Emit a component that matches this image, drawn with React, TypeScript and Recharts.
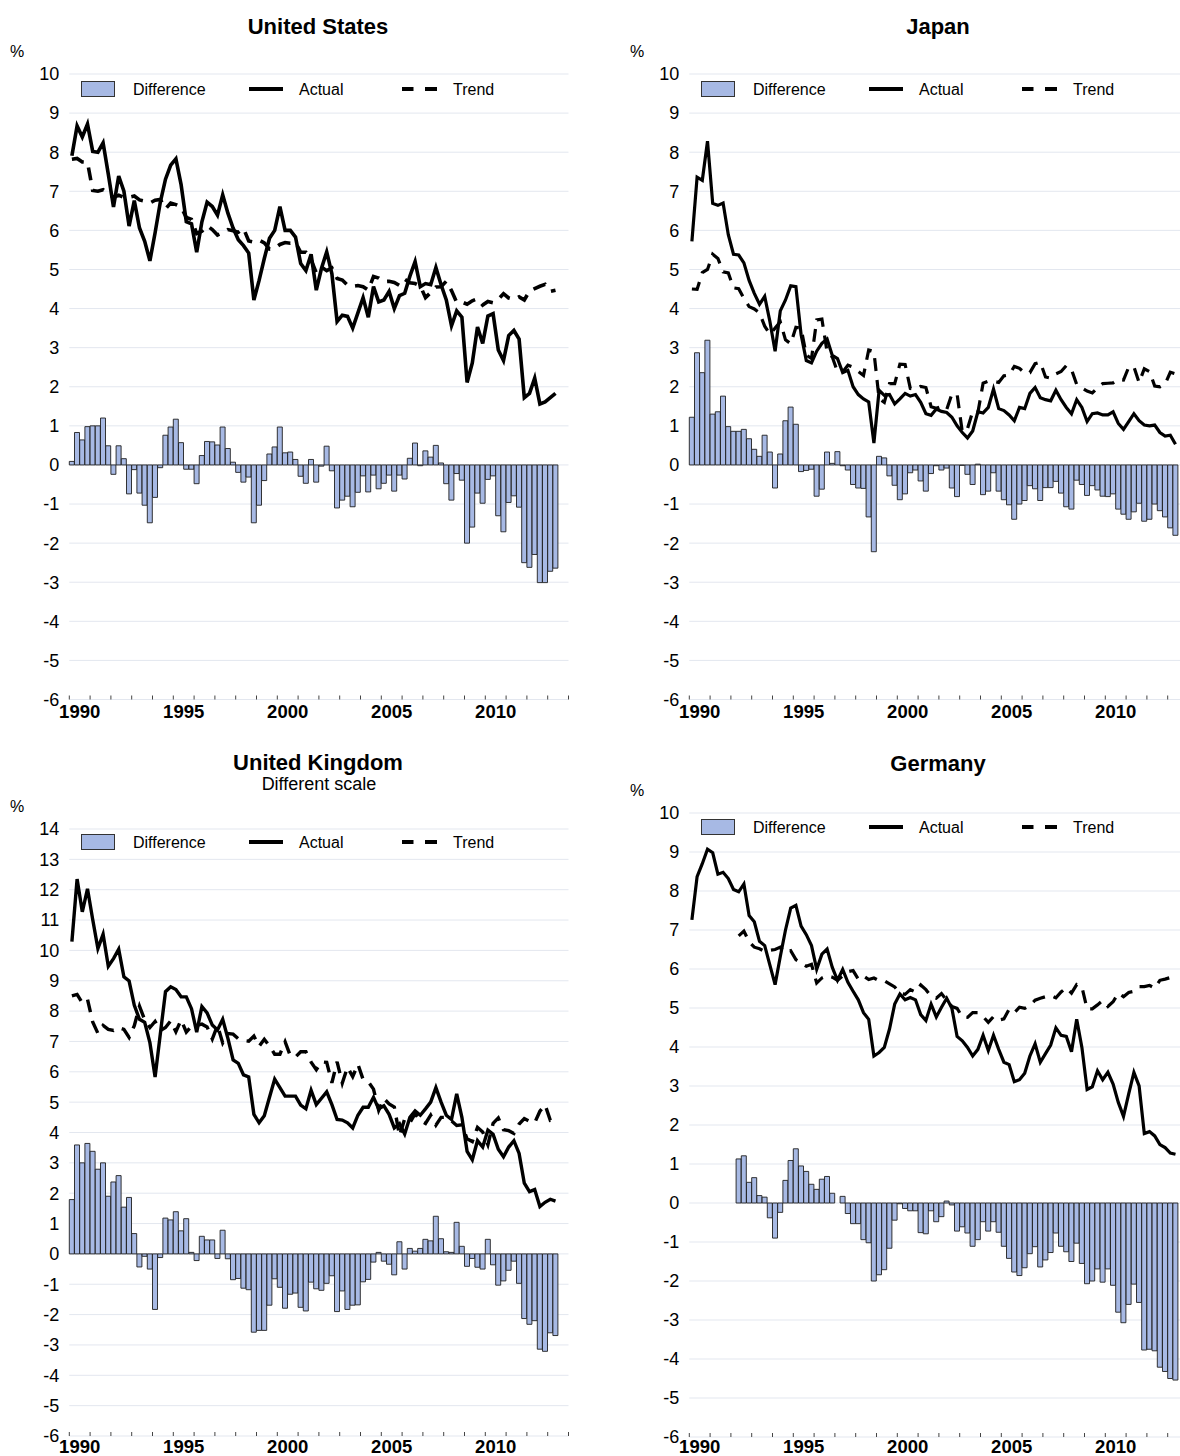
import React from 'react';
import { ComposedChart, Bar, Line, XAxis, YAxis, CartesianGrid, Legend } from 'recharts';

const YEARS = [1990, 1991, 1992, 1993, 1994, 1995, 1996, 1997, 1998, 1999, 2000, 2001, 2002, 2003, 2004, 2005, 2006, 2007, 2008, 2009, 2010, 2011, 2012, 2013];
const QUARTERS = ['Q1', 'Q2', 'Q3', 'Q4'];
const CATEGORIES = YEARS.flatMap((y) => QUARTERS.map((q) => `${y}${q}`));
const LABEL_YEARS = [1990, 1995, 2000, 2005, 2010];
const Y_TICKS_A = [-6, -5, -4, -3, -2, -1, 0, 1, 2, 3, 4, 5, 6, 7, 8, 9, 10];
const Y_TICKS_B = [-6, -5, -4, -3, -2, -1, 0, 1, 2, 3, 4, 5, 6, 7, 8, 9, 10, 11, 12, 13, 14];

// United States
const US_ACTUAL = [
  7.91, 8.67, 8.39, 8.72, 8.02, 8.0, 8.24, 7.44, 6.6, 7.39,
  7.0, 6.11, 6.76, 6.06, 5.72, 5.22, 5.94, 6.72, 7.31, 7.67,
  7.83, 7.17, 6.22, 6.17, 5.44, 6.22, 6.72, 6.61, 6.39, 6.91,
  6.44, 6.06, 5.76, 5.61, 5.42, 4.22, 4.72, 5.28, 5.8, 6.0,
  6.61, 6.0, 6.0, 5.83, 5.15, 4.97, 5.39, 4.47, 5.03, 5.45,
  4.89, 3.67, 3.83, 3.8, 3.5, 3.89, 4.28, 3.78, 4.56, 4.17,
  4.22, 4.44, 4.0, 4.33, 4.39, 4.83, 5.2, 4.56, 4.64, 4.61,
  5.05, 4.61, 4.22, 3.56, 3.94, 3.78, 2.11, 2.61, 3.53, 3.11,
  3.81, 3.87, 2.94, 2.67, 3.31, 3.44, 3.22, 1.72, 1.83, 2.22,
  1.56, 1.61, 1.72, 1.83,
];
const US_DIFF = [
  0.09, 0.83, 0.64, 0.98, 1.0, 1.0, 1.2, 0.49, -0.24, 0.49,
  0.16, -0.74, -0.12, -0.72, -1.03, -1.48, -0.83, -0.07, 0.76, 0.97,
  1.17, 0.57, -0.11, -0.11, -0.48, 0.24, 0.6, 0.59, 0.51, 0.97,
  0.42, 0.07, -0.19, -0.44, -0.31, -1.48, -1.03, -0.4, 0.28, 0.46,
  0.97, 0.31, 0.33, 0.14, -0.29, -0.47, 0.14, -0.44, -0.03, 0.48,
  -0.15, -1.1, -0.9, -0.8, -1.07, -0.7, -0.28, -0.69, -0.26, -0.61,
  -0.47, -0.26, -0.67, -0.26, -0.36, 0.17, 0.56, -0.02, 0.36, 0.2,
  0.5, 0.05, -0.48, -0.9, -0.22, -0.39, -2.0, -1.59, -0.72, -0.98,
  -0.37, -0.28, -1.3, -1.71, -0.96, -0.79, -1.08, -2.5, -2.62, -2.29,
  -3.01, -3.01, -2.72, -2.64,
];
const US_TREND = [
  7.82, 7.84, 7.75, 7.74, 7.02, 7.0, 7.04, 6.95, 6.84, 6.9,
  6.84, 6.85, 6.88, 6.78, 6.75, 6.7, 6.77, 6.79, 6.55, 6.7,
  6.66, 6.6, 6.33, 6.28, 5.92, 5.98, 6.12, 6.02, 5.88, 5.94,
  6.02, 5.99, 5.95, 6.05, 5.73, 5.7, 5.75, 5.68, 5.52, 5.54,
  5.64, 5.69, 5.67, 5.69, 5.44, 5.44, 5.25, 4.91, 5.06, 4.97,
  5.04, 4.77, 4.73, 4.6, 4.57, 4.59, 4.56, 4.47, 4.82, 4.78,
  4.69, 4.7, 4.67, 4.59, 4.75, 4.66, 4.64, 4.58, 4.28, 4.41,
  4.55, 4.56, 4.7, 4.46, 4.16, 4.17, 4.11, 4.2, 4.25, 4.09,
  4.18, 4.15, 4.24, 4.38, 4.27, 4.23, 4.3, 4.22, 4.45, 4.51,
  4.57, 4.62, 4.44, 4.47,
];

// Japan
const JP_ACTUAL = [
  5.72, 7.36, 7.28, 8.28, 6.69, 6.64, 6.7, 5.89, 5.39, 5.37,
  5.17, 4.72, 4.39, 4.11, 4.31, 3.67, 2.91, 3.94, 4.22, 4.58,
  4.56, 3.33, 2.67, 2.61, 2.91, 3.11, 3.22, 2.8, 2.72, 2.36,
  2.42, 2.0, 1.8, 1.69, 1.61, 0.56, 1.91, 1.78, 1.8, 1.56,
  1.69, 1.83, 1.76, 1.8, 1.6, 1.31, 1.27, 1.43, 1.37, 1.34,
  1.22, 1.0, 0.83, 0.69, 0.87, 1.36, 1.33, 1.47, 1.94, 1.44,
  1.39, 1.28, 1.13, 1.47, 1.44, 1.83, 1.98, 1.72, 1.67, 1.64,
  1.91, 1.67, 1.47, 1.31, 1.67, 1.47, 1.11, 1.31, 1.33, 1.28,
  1.28, 1.36, 1.06, 0.91, 1.11, 1.31, 1.13, 1.02, 1.0, 1.02,
  0.83, 0.74, 0.76, 0.53,
];
const JP_DIFF = [
  1.22, 2.87, 2.36, 3.19, 1.3, 1.36, 1.76, 0.98, 0.86, 0.86,
  0.91, 0.67, 0.4, 0.22, 0.76, 0.33, -0.59, 0.28, 1.13, 1.48,
  1.04, -0.17, -0.14, -0.11, -0.8, -0.62, 0.33, 0.04, 0.34, -0.02,
  -0.13, -0.5, -0.59, -0.6, -1.33, -2.22, 0.22, 0.18, -0.28, -0.52,
  -0.89, -0.74, -0.2, -0.13, -0.41, -0.67, -0.22, -0.02, -0.13, -0.08,
  -0.59, -0.81, -0.01, -0.24, -0.5, 0.02, -0.76, -0.67, -0.2, -0.67,
  -0.89, -1.02, -1.39, -1.0, -0.91, -0.53, -0.61, -0.91, -0.58, -0.58,
  -0.42, -0.72, -1.07, -1.13, -0.39, -0.5, -0.78, -0.53, -0.64, -0.8,
  -0.81, -0.74, -1.13, -1.26, -1.39, -1.2, -0.98, -1.44, -1.39, -1.0,
  -1.17, -1.33, -1.61, -1.8,
];
const JP_TREND = [
  4.5, 4.49, 4.92, 5.0, 5.39, 5.28, 4.94, 4.91, 4.53, 4.51,
  4.26, 4.05, 3.99, 3.89, 3.55, 3.34, 3.5, 3.66, 3.2, 3.1,
  3.52, 3.5, 2.81, 2.72, 3.71, 3.73, 2.89, 2.76, 2.38, 2.38,
  2.55, 2.5, 2.39, 2.29, 2.94, 2.9, 1.69, 1.6, 2.08, 2.08,
  2.58, 2.57, 1.96, 1.93, 2.01, 1.98, 1.49, 1.45, 1.5, 1.42,
  1.81, 1.81, 0.84, 0.93, 1.37, 1.34, 2.09, 2.14, 2.14, 2.11,
  2.28, 2.3, 2.52, 2.47, 2.35, 2.36, 2.59, 2.63, 2.25, 2.22,
  2.33, 2.39, 2.54, 2.44, 2.06, 1.97, 1.89, 1.84, 1.97, 2.08,
  2.09, 2.1, 2.19, 2.17, 2.5, 2.51, 2.11, 2.46, 2.39, 2.02,
  2.0, 2.07, 2.37, 2.33,
];

// United Kingdom
const UK_ACTUAL = [
  10.29, 12.35, 11.27, 12.03, 11.02, 10.06, 10.53, 9.48, 9.73, 10.04,
  9.13, 8.99, 8.19, 7.73, 7.63, 6.96, 5.83, 7.24, 8.64, 8.8,
  8.71, 8.47, 8.47, 8.08, 7.31, 8.15, 7.94, 7.54, 7.38, 7.73,
  7.1, 6.39, 6.28, 5.9, 5.83, 4.6, 4.32, 4.55, 5.16, 5.76,
  5.48, 5.2, 5.2, 5.2, 4.9, 4.78, 5.39, 4.92, 5.13, 5.34,
  4.92, 4.43, 4.41, 4.32, 4.15, 4.57, 4.83, 4.83, 5.16, 4.78,
  4.88, 4.6, 4.15, 4.29, 3.95, 4.5, 4.71, 4.57, 4.78, 5.0,
  5.48, 5.0, 4.57, 4.43, 5.27, 4.5, 3.38, 3.1, 3.73, 3.52,
  4.08, 3.94, 3.45, 3.2, 3.52, 3.73, 3.31, 2.33, 2.05, 2.12,
  1.56, 1.7, 1.8, 1.74,
];
const UK_DIFF = [
  1.79, 3.59, 3.0, 3.64, 3.38, 2.79, 3.0, 1.9, 2.37, 2.58,
  1.54, 1.86, 0.67, -0.43, -0.08, -0.5, -1.83, -0.12, 1.18, 1.12,
  1.39, 0.76, 1.16, 0.05, -0.22, 0.58, 0.46, 0.46, -0.15, 0.78,
  -0.16, -0.85, -0.81, -1.13, -1.18, -2.58, -2.52, -2.52, -1.69, -0.82,
  -1.1, -1.79, -1.33, -1.29, -1.76, -1.88, -0.93, -1.15, -1.2, -0.97,
  -0.72, -1.9, -1.22, -1.83, -1.69, -1.68, -0.92, -0.84, -0.27, 0.05,
  -0.24, -0.34, -0.69, 0.4, -0.5, 0.18, 0.09, 0.18, 0.48, 0.43,
  1.24, 0.5, 0.07, 0.05, 1.04, 0.25, -0.41, -0.15, -0.44, -0.5,
  0.48, -0.36, -1.03, -0.89, -0.54, -0.24, -0.97, -2.13, -2.32, -2.2,
  -3.14, -3.21, -2.6, -2.69,
];
const UK_TREND = [
  8.5, 8.55, 8.27, 8.39, 7.64, 7.27, 7.53, 7.4, 7.36, 7.46,
  7.4, 7.13, 7.52, 8.16, 7.71, 7.46, 7.66, 7.36, 7.46, 7.68,
  7.32, 7.71, 7.31, 7.5, 7.53, 7.57, 7.48, 7.08, 7.53, 6.95,
  7.26, 7.24, 7.09, 7.03, 7.01, 7.18, 6.84, 7.07, 6.85, 6.58,
  6.58, 6.99, 6.53, 6.49, 6.66, 6.66, 6.32, 6.07, 6.33, 6.31,
  5.64, 6.33, 5.63, 6.15, 5.84, 6.25, 5.75, 5.67, 5.43, 4.73,
  5.12, 4.94, 4.84, 3.89, 4.45, 4.32, 4.62, 4.39, 4.3, 4.57,
  4.24, 4.5, 4.5, 4.38, 4.23, 4.25, 3.79, 3.7, 4.17, 4.02,
  3.6, 4.3, 4.48, 4.09, 4.06, 3.97, 4.28, 4.46, 4.37, 4.32,
  4.7, 4.91, 4.4, 4.43,
];

// Germany
const DE_ACTUAL = [
  7.26, 8.37, 8.7, 9.07, 8.98, 8.43, 8.48, 8.32, 8.04, 7.98,
  8.18, 7.37, 7.21, 6.71, 6.6, 6.1, 5.6, 6.32, 7.0, 7.56,
  7.63, 7.1, 6.88, 6.6, 5.99, 6.38, 6.51, 6.04, 5.71, 5.99,
  5.66, 5.43, 5.21, 4.88, 4.71, 3.77, 3.86, 3.99, 4.46, 5.1,
  5.36, 5.21, 5.27, 5.21, 4.83, 4.68, 5.1, 4.77, 5.02, 5.25,
  4.99, 4.27, 4.16, 3.99, 3.77, 3.94, 4.3, 3.91, 4.3, 3.94,
  3.61, 3.55, 3.11, 3.16, 3.33, 3.77, 4.08, 3.61, 3.83, 4.05,
  4.49, 4.3, 4.27, 3.88, 4.71, 3.99, 2.91, 2.98, 3.39, 3.16,
  3.35, 3.05, 2.58, 2.22, 2.8, 3.35, 3.0, 1.78, 1.83, 1.72,
  1.5, 1.42, 1.28, 1.25,
];
const DE_DIFF = [
  null, null, null, null, null, null, null, null, null, 1.13,
  1.21, 0.53, 0.65, 0.19, 0.15, -0.38, -0.9, -0.24, 0.58, 1.09,
  1.39, 0.95, 0.81, 0.48, 0.35, 0.61, 0.68, 0.25, 0.0, 0.17,
  -0.27, -0.53, -0.53, -0.94, -1.02, -2.0, -1.84, -1.71, -1.16, -0.44,
  -0.02, -0.14, -0.2, -0.2, -0.76, -0.79, -0.2, -0.48, -0.35, 0.05,
  -0.05, -0.72, -0.61, -0.77, -1.11, -0.94, -0.48, -0.72, -0.48, -0.75,
  -1.11, -1.42, -1.77, -1.86, -1.66, -1.3, -1.12, -1.64, -1.46, -1.27,
  -0.77, -1.11, -1.25, -1.5, -1.03, -1.55, -2.07, -2.0, -1.69, -2.03,
  -1.69, -2.11, -2.8, -3.07, -2.6, -2.08, -2.55, -3.77, -3.75, -3.79,
  -4.21, -4.32, -4.5, -4.54,
];
const DE_TREND = [
  null, null, null, null, null, null, null, null, null, 6.85,
  6.97, 6.7, 6.56, 6.52, 6.45, 6.48, 6.5, 6.56, 6.42, 6.47,
  6.24, 6.15, 6.07, 6.12, 5.64, 5.77, 5.83, 5.79, 5.71, 5.82,
  5.93, 5.96, 5.74, 5.82, 5.73, 5.77, 5.7, 5.7, 5.62, 5.54,
  5.38, 5.35, 5.47, 5.41, 5.59, 5.47, 5.3, 5.25, 5.37, 5.2,
  5.04, 4.99, 4.77, 4.76, 4.88, 4.88, 4.78, 4.63, 4.78, 4.69,
  4.72, 4.97, 4.88, 5.02, 4.99, 5.07, 5.2, 5.25, 5.29, 5.32,
  5.26, 5.41, 5.52, 5.38, 5.6, 5.54, 4.98, 4.98, 5.08, 5.19,
  5.04, 5.16, 5.38, 5.29, 5.4, 5.43, 5.55, 5.55, 5.58, 5.51,
  5.71, 5.74, 5.78, 5.79,
];

const FONT = '"Liberation Sans", Arial, Helvetica, sans-serif';
const BAR_FILL = '#a7b9e4';
const BAR_STROKE = '#1e1e1e';
const GRID = '#e3e7ef';
const BW = 5.2;

type Num = number | null;
function buildData(diff: Num[], actual: Num[], trend: Num[]) {
  return CATEGORIES.map((q, i) => ({
    q,
    diff: diff[i] ?? null,
    actual: actual[i] ?? null,
    trend: trend[i] ?? null,
  }));
}

function XTick(props: any) {
  const { x, y, payload, labelOffset } = props;
  const index = CATEGORIES.indexOf(payload.value);
  const els: React.ReactNode[] = [];
  if (index % 4 === 0) {
    const bx = x - BW / 2;
    els.push(<line key="t" x1={bx} x2={bx} y1={y - 4} y2={y} stroke="#444" strokeWidth={1} />);
    const year = YEARS[index / 4];
    if (LABEL_YEARS.includes(year)) {
      els.push(
        <text key="l" x={x + 1.5 * BW} y={y + labelOffset} textAnchor="middle" dominantBaseline="central"
          fontSize={18.5} fontWeight="bold" fontFamily={FONT} fill="#000">{year}</text>
      );
    }
  }
  if (index === CATEGORIES.length - 1) {
    const ex = x + BW / 2;
    els.push(<line key="e" x1={ex} x2={ex} y1={y - 4} y2={y} stroke="#444" strokeWidth={1} />);
  }
  return <g>{els}</g>;
}

function LegendBox() {
  return (
    <svg width={480} height={20} style={{ display: 'block', overflow: 'visible' }}>
      <rect x={81.5} y={2.5} width={33} height={15} fill={BAR_FILL} stroke="#333" strokeWidth={1} />
      <text x={133} y={10.5} dominantBaseline="central" fontSize={16} fontFamily={FONT} fill="#000">Difference</text>
      <line x1={249} x2={283} y1={10} y2={10} stroke="#000" strokeWidth={4} />
      <text x={299} y={10.5} dominantBaseline="central" fontSize={16} fontFamily={FONT} fill="#000">Actual</text>
      <line x1={402} x2={413.5} y1={10} y2={10} stroke="#000" strokeWidth={4} />
      <line x1={425} x2={437} y1={10} y2={10} stroke="#000" strokeWidth={4} />
      <text x={453} y={10.5} dominantBaseline="central" fontSize={16} fontFamily={FONT} fill="#000">Trend</text>
    </svg>
  );
}

type PanelProps = {
  left: number;
  top: number;
  height: number;
  marginTop: number;
  xAxisHeight: number;
  labelOffset: number;
  yTicks: number[];
  data: any[];
  legendTop: number;
  lineWidth: number;
};

function Panel(p: PanelProps) {
  const domain: [number, number] = [p.yTicks[0], p.yTicks[p.yTicks.length - 1]];
  return (
    <div style={{ position: 'absolute', left: p.left, top: p.top }}>
      <ComposedChart
        width={580}
        height={p.height}
        data={p.data}
        margin={{ top: p.marginTop, right: 11.5, bottom: p.height === 740 ? 10.5 : 0, left: 9.3 }}
        barCategoryGap={0}
        barGap={0}
      >
        <CartesianGrid vertical={false} stroke={GRID} strokeWidth={1} />
        <XAxis
          dataKey="q"
          interval={0}
          axisLine={false}
          tickLine={false}
          tickSize={0}
          tickMargin={0}
          height={p.xAxisHeight}
          tick={(tp: any) => <XTick {...tp} labelOffset={p.labelOffset} />}
        />
        <YAxis
          type="number"
          domain={domain}
          ticks={p.yTicks}
          interval={0}
          allowDataOverflow
          axisLine={false}
          tickLine={false}
          tickSize={0}
          tickMargin={10}
          width={60}
          tick={{ fontSize: 18, fill: '#000', fontFamily: FONT }}
        />
        <Legend
          layout="horizontal"
          verticalAlign="middle"
          align="center"
          wrapperStyle={{ position: 'absolute', left: 0, top: p.legendTop, width: 480, height: 20 }}
          content={() => <LegendBox />}
        />
        <Bar dataKey="diff" fill={BAR_FILL} stroke={BAR_STROKE} strokeWidth={0.9} isAnimationActive={false} />
        <Line dataKey="actual" type="linear" stroke="#000" strokeWidth={p.lineWidth} dot={false} activeDot={false} isAnimationActive={false} />
        <Line dataKey="trend" type="linear" stroke="#000" strokeWidth={p.lineWidth} strokeDasharray="13 9" dot={false} activeDot={false} isAnimationActive={false} />
      </ComposedChart>
    </div>
  );
}

function Txt({ cx, cy, size, bold, children }: { cx: number; cy: number; size: number; bold?: boolean; children: React.ReactNode }) {
  const w = 400;
  const lh = size;
  return (
    <div style={{ position: 'absolute', left: cx - w / 2, top: cy - lh / 2, width: w, height: lh, textAlign: 'center', fontSize: size, lineHeight: `${lh}px`, fontWeight: bold ? 'bold' : 'normal', fontFamily: FONT, color: '#000', whiteSpace: 'nowrap' }}>
      {children}
    </div>
  );
}

const US_DATA = buildData(US_DIFF, US_ACTUAL, US_TREND);
const JP_DATA = buildData(JP_DIFF, JP_ACTUAL, JP_TREND);
const UK_DATA = buildData(UK_DIFF, UK_ACTUAL, UK_TREND);
const DE_DATA = buildData(DE_DIFF, DE_ACTUAL, DE_TREND);

export default function App() {
  return (
    <div style={{ position: 'absolute', left: 0, top: 0, width: 1180, height: 1456, overflow: 'hidden', background: '#fff', fontFamily: FONT }}>
      <Panel left={0} top={0} height={740} marginTop={74} xAxisHeight={30} labelOffset={11.5} yTicks={Y_TICKS_A} data={US_DATA} legendTop={78.5} lineWidth={3.6} />
      <Panel left={620} top={0} height={740} marginTop={74} xAxisHeight={30} labelOffset={11.5} yTicks={Y_TICKS_A} data={JP_DATA} legendTop={78.5} lineWidth={3.2} />
      <Panel left={0} top={740} height={716} marginTop={89} xAxisHeight={20} labelOffset={10} yTicks={Y_TICKS_B} data={UK_DATA} legendTop={91.5} lineWidth={3.4} />
      <Panel left={620} top={740} height={716} marginTop={73} xAxisHeight={19} labelOffset={9} yTicks={Y_TICKS_A} data={DE_DATA} legendTop={77} lineWidth={3.2} />

      <Txt cx={318} cy={27} size={22} bold>United States</Txt>
      <Txt cx={938} cy={27} size={22} bold>Japan</Txt>
      <Txt cx={318} cy={763} size={22} bold>United Kingdom</Txt>
      <Txt cx={319} cy={784} size={18}>Different scale</Txt>
      <Txt cx={938} cy={764} size={22} bold>Germany</Txt>

      <Txt cx={17} cy={52} size={16}>%</Txt>
      <Txt cx={637} cy={52} size={16}>%</Txt>
      <Txt cx={17} cy={807} size={16}>%</Txt>
      <Txt cx={637} cy={791} size={16}>%</Txt>
    </div>
  );
}
